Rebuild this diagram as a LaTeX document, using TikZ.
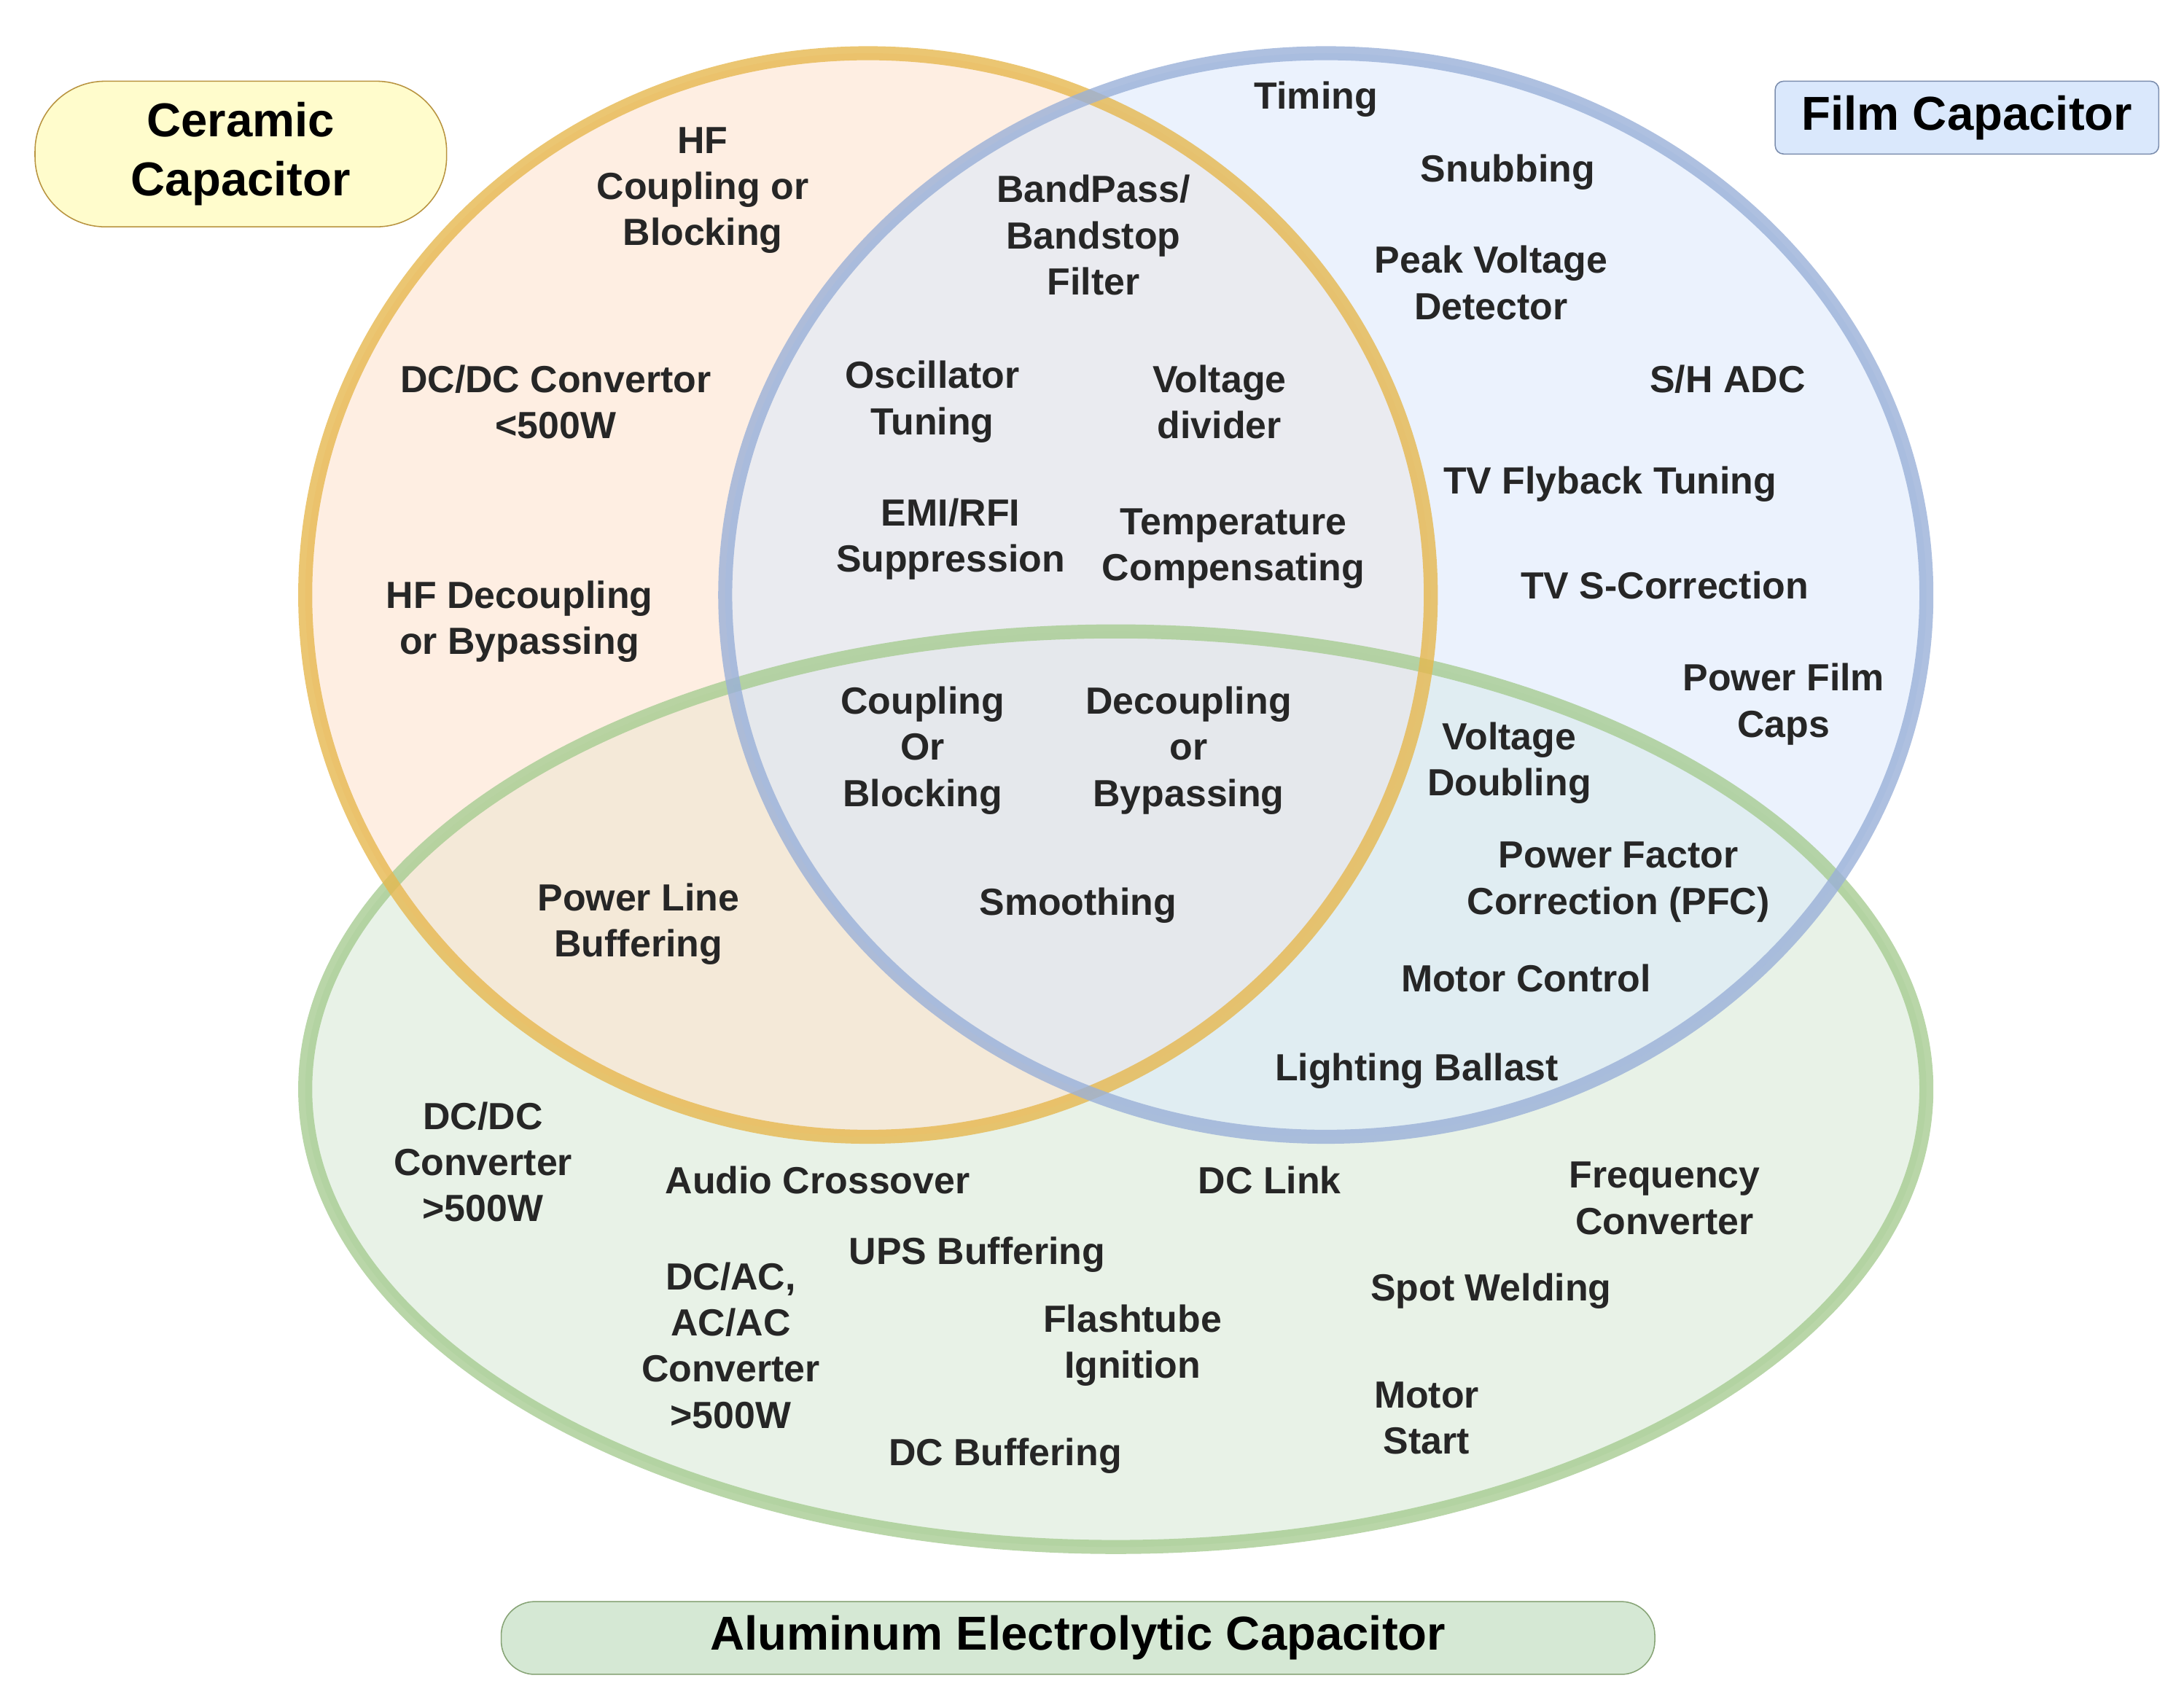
\documentclass[tikz,border=0pt]{standalone}
\usepackage{fontspec}
\setmainfont{Liberation Sans}
\begin{document}
\begin{tikzpicture}[x=0.5pt,y=-0.5pt,
  t/.style={font=\bfseries\fontsize{13.5}{16.5}\selectfont,align=center,text=black!85},
  big/.style={font=\bfseries\fontsize{17}{21}\selectfont,align=center}]
\useasboundingbox (0,0) rectangle (1560,1212);
\definecolor{orS}{HTML}{E6B84F}\definecolor{orF}{HTML}{FDE3CF}
\definecolor{blS}{HTML}{9AB0D8}\definecolor{blF}{HTML}{DAE8FC}
\definecolor{grS}{HTML}{A7CC92}\definecolor{grF}{HTML}{D5E8D4}
\fill[grF,opacity=0.55] (797,778) ellipse [x radius=579,y radius=327];
\fill[orF,opacity=0.6] (620,425) ellipse [x radius=402,y radius=387];
\fill[blF,opacity=0.55] (947,425) ellipse [x radius=429,y radius=387];
\draw[grS,line width=5pt,opacity=0.8] (797,778) ellipse [x radius=579,y radius=327];
\draw[orS,line width=5pt,opacity=0.8] (620,425) ellipse [x radius=402,y radius=387];
\draw[blS,line width=5pt,opacity=0.8] (947,425) ellipse [x radius=429,y radius=387];
\node[big,draw=orS!80!black,fill=yellow!20,rounded corners=25pt,minimum width=147pt,minimum height=52pt] (cer) at (172,110) {Ceramic\\Capacitor};
\node[big,draw=blS!80!black,fill=blF,rounded corners=3pt,minimum width=137pt,minimum height=26pt] (film) at (1405,84) {Film Capacitor};
\node[big,draw=grS!80!black,fill=grF,rounded corners=12pt,minimum width=412pt,minimum height=26pt] (alu) at (770,1170) {Aluminum Electrolytic Capacitor};
\node[t] (a1) at (502,136) {HF\\Coupling or\\Blocking};
\node[t] (a2) at (397,287) {DC/DC Convertor\\<500W};
\node[t] (a3) at (371,444) {HF Decoupling\\or Bypassing};
\node[t] (a4) at (456,660) {Power Line\\Buffering};
\node[t] (b1) at (781,168) {BandPass/\\Bandstop\\Filter};
\node[t] (b2) at (666,287) {Oscillator\\Tuning};
\node[t] (b3) at (871,287) {Voltage\\divider};
\node[t] (b4) at (679,385) {EMI/RFI\\Suppression};
\node[t] (b5) at (881,392) {Temperature\\Compensating};
\node[t] (c1) at (659,536) {Coupling\\Or\\Blocking};
\node[t] (c2) at (849,536) {Decoupling\\or\\Bypassing};
\node[t] (c3) at (770,647) {Smoothing};
\node[t] (f1) at (940,71) {Timing};
\node[t] (f2) at (1077,123) {Snubbing};
\node[t] (f3) at (1065,202) {Peak Voltage\\Detector};
\node[t] (f4) at (1234,271) {S/H ADC};
\node[t] (f5) at (1150,346) {TV Flyback Tuning};
\node[t] (f6) at (1189,418) {TV S-Correction};
\node[t] (f7) at (1274,503) {Power Film\\Caps};
\node[t] (d1) at (1078,545) {Voltage\\Doubling};
\node[t] (d2) at (1156,630) {Power Factor\\Correction (PFC)};
\node[t] (d3) at (1090,699) {Motor Control};
\node[t] (d4) at (1012,765) {Lighting Ballast};
\node[t] (g1) at (345,830) {DC/DC\\Converter\\>500W};
\node[t] (g2) at (584,843) {Audio Crossover};
\node[t] (g3) at (907,843) {DC Link};
\node[t] (g4) at (1189,856) {Frequency\\Converter};
\node[t] (g5) at (698,896) {UPS Buffering};
\node[t] (g6) at (522,961) {DC/AC,\\AC/AC\\Converter\\>500W};
\node[t] (g7) at (809,961) {Flashtube\\Ignition};
\node[t] (g8) at (1065,922) {Spot Welding};
\node[t] (g9) at (1019,1013) {Motor\\Start};
\node[t] (g10) at (718,1040) {DC Buffering};
\end{tikzpicture}
\end{document}
